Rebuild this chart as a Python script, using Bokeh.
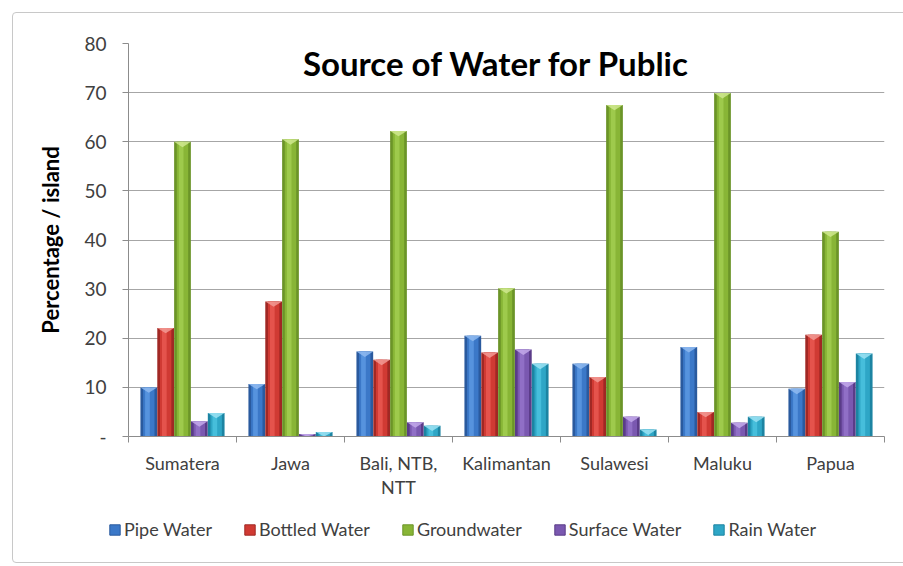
from bokeh.plotting import figure
from bokeh.layouts import column
from bokeh.models import (Range1d, FixedTicker, Legend, LegendItem, Label,
                          InlineStyleSheet)
from bokeh.embed import file_html
from bokeh.resources import INLINE

# Share of households by main drinking-water source, per island group (%)
categories = ["Sumatera", "Jawa", "Bali, NTB,\nNTT", "Kalimantan",
              "Sulawesi", "Maluku", "Papua"]
series_names = ["Pipe Water", "Bottled Water", "Groundwater",
                "Surface Water", "Rain Water"]
pipe_water = [10.0, 10.7, 17.3, 20.5, 14.8, 18.2, 9.7]
bottled_water = [22.1, 27.5, 15.6, 17.1, 12.1, 5.0, 20.7]
groundwater = [60.0, 60.5, 62.2, 30.2, 67.5, 69.9, 41.7]
surface_water = [3.1, 0.5, 2.9, 17.7, 4.0, 2.8, 11.1]
rain_water = [4.8, 0.9, 2.2, 14.8, 1.4, 4.0, 16.9]
y_ticks = [0, 10, 20, 30, 40, 50, 60, 70, 80]

series = [pipe_water, bottled_water, groundwater, surface_water, rain_water]

# (edge shade, body, highlight, cap)
palettes = [
    ("#2a5a9e", "#3b78c8", "#5e9ae4", "#8fbaf0"),
    ("#a02824", "#d03a33", "#ea5a52", "#f29a94"),
    ("#6b9428", "#88b536", "#a4cf52", "#cfe88f"),
    ("#5a3c88", "#7a58b0", "#9676cc", "#c3a9ea"),
    ("#1c84a2", "#2ea6c6", "#4cc4e0", "#9be2f2"),
]

FONT = "Lato"
TEXT = "#404040"

p = figure(width=903, height=500, output_backend="svg", toolbar_location=None,
           x_range=Range1d(-0.5, 6.5), y_range=Range1d(0, 80),
           min_border_left=128, min_border_right=19, min_border_top=43,
           min_border_bottom=63)
p.frame_align = False
p.outline_line_color = None
p.background_fill_color = "white"
p.border_fill_color = "white"

bar_w = 0.155
step = 0.156
for j, (vals, cols) in enumerate(zip(series, palettes)):
    edge, body, hi, cap = cols
    xs = [i + (j - 2) * step for i in range(len(categories))]
    p.vbar(x=xs, top=vals, bottom=0, width=bar_w, fill_color=edge,
           line_color=None)
    p.vbar(x=xs, top=vals, bottom=0, width=bar_w * 0.68,
           fill_color=body, line_color=None)
    p.vbar(x=[x - bar_w * 0.08 for x in xs], top=vals, bottom=0,
           width=bar_w * 0.28, fill_color=hi, line_color=None, fill_alpha=0.8)
    # light chevron cap on top of each column
    depth = [min(1.1, v) for v in vals]
    p.patches(xs=[[x - bar_w / 2, x + bar_w / 2, x] for x in xs],
              ys=[[v, v, v - d] for v, d in zip(vals, depth)],
              fill_color=cap, fill_alpha=0.85, line_color=None)

# grid and axes
p.xgrid.visible = False
p.ygrid.grid_line_color = "#a6a6a6"
p.ygrid.grid_line_width = 1
p.ygrid.ticker = FixedTicker(ticks=y_ticks)

p.yaxis.ticker = FixedTicker(ticks=y_ticks)
p.yaxis.major_label_overrides = {0: "-"}
p.yaxis.axis_label = "Percentage / island"
p.yaxis.axis_label_text_font = FONT
p.yaxis.axis_label_text_font_style = "bold"
p.yaxis.axis_label_text_font_size = "22px"
p.yaxis.axis_label_text_color = "black"
p.yaxis.axis_label_standoff = 17
p.yaxis.major_label_text_font = FONT
p.yaxis.major_label_text_font_size = "19px"
p.yaxis.major_label_text_color = TEXT
p.yaxis.major_label_standoff = 16
p.yaxis.major_tick_out = 6
p.yaxis.major_tick_in = 0
p.yaxis.minor_tick_line_color = None
p.yaxis.axis_line_color = "#8c8c8c"
p.yaxis.major_tick_line_color = "#8c8c8c"

p.xaxis.ticker = FixedTicker(ticks=list(range(len(categories))),
                             minor_ticks=[i - 0.5 for i in range(len(categories) + 1)])
p.xaxis.major_label_overrides = {i: c for i, c in enumerate(categories)}
p.xaxis.major_label_text_font = FONT
p.xaxis.major_label_text_font_size = "18px"
p.xaxis.major_label_text_color = TEXT
p.xaxis.major_label_text_line_height = 1.1
p.xaxis.major_label_standoff = 9
p.xaxis.major_tick_line_color = None
p.xaxis.major_tick_out = 0
p.xaxis.major_tick_in = 0
p.xaxis.minor_tick_line_color = "#8c8c8c"
p.xaxis.minor_tick_out = 6
p.xaxis.minor_tick_in = 0
p.xaxis.axis_line_color = "#8c8c8c"

# title inside the plot area
p.add_layout(Label(x=3, y=80, x_offset=-10, y_offset=-19, text="Source of Water for Public",
                   text_font=FONT, text_font_style="bold", text_font_size="33px",
                   text_color="black", text_align="center",
                   text_baseline="alphabetic"))

# legend strip underneath the chart; its swatch renderers carry the same
# series but lie far outside this strip's visible ranges
lf = figure(width=903, height=66, output_backend="svg", toolbar_location=None,
            x_range=Range1d(1000, 1001), y_range=Range1d(1000, 1001),
            x_axis_type=None, y_axis_type=None, min_border=0)
lf.frame_align = False
lf.outline_line_color = None
lf.grid.visible = False
legend_items = []
for j, (name, vals, cols) in enumerate(zip(series_names, series, palettes)):
    edge, body, hi, cap = cols
    xs = [i + (j - 2) * step for i in range(len(categories))]
    r = lf.vbar(x=xs, top=vals, bottom=0, width=bar_w, fill_color=body,
                line_color=edge)
    legend_items.append(LegendItem(label=name, renderers=[r]))

legend = Legend(items=legend_items, orientation="horizontal",
                location=(108, 26), glyph_width=13, glyph_height=13,
                label_standoff=3, spacing=31, padding=4, label_height=13,
                margin=0, border_line_color=None, background_fill_alpha=0,
                label_text_font=FONT, label_text_font_size="18px",
                label_text_color=TEXT)
lf.add_layout(legend, "center")

# thin grey frame around the whole chart
frame_css = InlineStyleSheet(css="""
:host { position: relative; }
:host::after {
  content: ""; position: absolute; left: 12px; top: 12px; right: -20px;
  bottom: 3px; border: 1.5px solid #c8c8c8; border-radius: 4px;
  pointer-events: none; z-index: 5;
}
""")
layout = column(p, lf, spacing=0, stylesheets=[frame_css])

open("out.html", "w").write(file_html(layout, INLINE))
